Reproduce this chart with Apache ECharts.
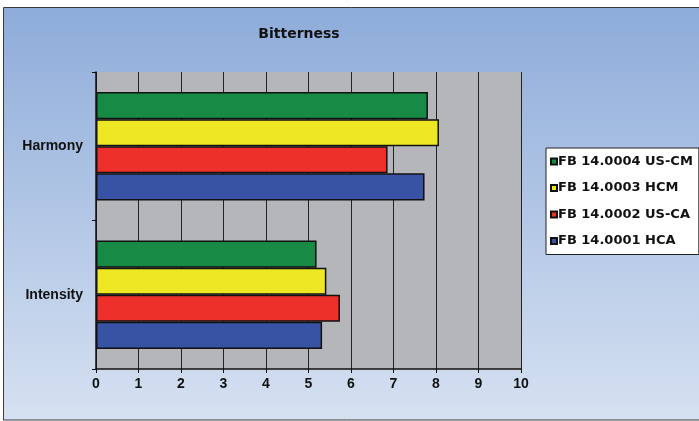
<!DOCTYPE html>
<html>
<head>
<meta charset="utf-8">
<script src="https://cdn.jsdelivr.net/npm/echarts@6/dist/echarts.min.js"></script>
<style>
  html, body { margin: 0; padding: 0; }
  #chart { width: 699px; height: 421px; }
</style>
</head>
<body>
<div id="chart"></div>
<script>
// Rating categories (bottom to top on the axis)
const categories = ['Intensity', 'Harmony'];

// Sample names and their scores per category (listed top bar first)
const seriesNames = ['FB 14.0004 US-CM', 'FB 14.0003 HCM', 'FB 14.0002 US-CA', 'FB 14.0001 HCA'];
const uscmValues  = [5.19, 7.81];
const hcmValues   = [5.42, 8.07];
const uscaValues  = [5.74, 6.86];
const hcaValues   = [5.32, 7.73];
const seriesColors = ['#178A45', '#EDE823', '#EE302A', '#3853A4'];

const xTicks = [0, 1, 2, 3, 4, 5, 6, 7, 8, 9, 10];

const valueSets = [uscmValues, hcmValues, uscaValues, hcaValues];
const axisFont = '"Liberation Sans", Arial, sans-serif';
const boxFont = '"DejaVu Sans", sans-serif';

const chart = echarts.init(document.getElementById('chart'));
chart.setOption({
  animation: false,
  backgroundColor: 'transparent',
  graphic: [{
    type: 'rect',
    z: -10,
    silent: true,
    shape: { x: 3.5, y: 7.5, width: 700, height: 412.5 },
    style: {
      fill: new echarts.graphic.LinearGradient(0, 0, 0, 1, [
        { offset: 0, color: '#8EACDA' },
        { offset: 1, color: '#D6E1F1' }
      ]),
      stroke: '#3a3a3a',
      lineWidth: 1
    }
  }],
  title: {
    text: 'Bitterness',
    left: 294,
    top: 22,
    textAlign: 'center',
    textStyle: { fontFamily: boxFont, fontSize: 14, fontWeight: 'bold', color: '#111' }
  },
  legend: {
    orient: 'vertical',
    left: 546,
    top: 148,
    width: 152,
    height: 106,
    padding: [7, 6, 7, 4],
    itemGap: 13.5,
    itemWidth: 6,
    itemHeight: 6,
    icon: 'rect',
    backgroundColor: '#ffffff',
    borderColor: '#222',
    borderWidth: 1,
    data: seriesNames,
    textStyle: { fontFamily: boxFont, fontSize: 13, fontWeight: 'bold', color: '#111', padding: [0, 0, 0, -4] }
  },
  grid: {
    left: 96,
    right: 178,
    top: 72,
    bottom: 52,
    show: true,
    backgroundColor: '#B5B6BA',
    borderWidth: 0
  },
  xAxis: {
    type: 'value',
    min: 0,
    max: 10,
    interval: 1,
    axisLine: { show: true, lineStyle: { color: '#111', width: 1.5 } },
    axisTick: { show: true, length: 4, lineStyle: { color: '#111' } },
    splitLine: { show: true, lineStyle: { color: '#222', width: 1 } },
    axisLabel: {
      margin: 8,
      fontFamily: axisFont,
      fontSize: 14,
      fontWeight: 'bold',
      color: '#111',
      formatter: v => String(xTicks[Math.round(v)])
    }
  },
  yAxis: {
    type: 'category',
    data: categories,
    axisLine: { show: true, lineStyle: { color: '#111', width: 1.5 } },
    axisTick: { show: true, length: 4, lineStyle: { color: '#111' } },
    axisLabel: {
      margin: 13,
      fontFamily: axisFont,
      fontSize: 14,
      fontWeight: 'bold',
      color: '#111'
    }
  },
  series: seriesNames.map((name, i) => ({
    name: name,
    type: 'bar',
    data: valueSets[i],
    barGap: '0%',
    barCategoryGap: '27%',
    itemStyle: { color: seriesColors[i], borderColor: '#111', borderWidth: 1.5 }
  }))
});
</script>
</body>
</html>
